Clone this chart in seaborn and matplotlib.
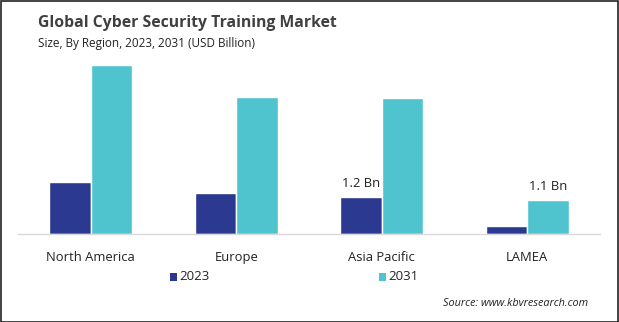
import matplotlib
matplotlib.use("Agg")
import matplotlib.pyplot as plt
import seaborn as sns
import pandas as pd
from matplotlib.patches import Rectangle

regions = ["North America", "Europe", "Asia Pacific", "LAMEA"]
years = ["2023", "2031"]
values_2023 = [1.68, 1.32, 1.2, 0.26]
values_2031 = [5.45, 4.42, 4.39, 1.1]
labels_2023 = ["", "", "1.2 Bn", ""]
labels_2031 = ["", "", "", "1.1 Bn"]

df = pd.DataFrame({
    "Region": regions * 2,
    "Year": [years[0]] * 4 + [years[1]] * 4,
    "Value": values_2023 + values_2031,
})

sns.set_theme(style="white")
plt.rcParams['font.family'] = ['Open Sans', 'DejaVu Sans']

fig = plt.figure(figsize=(6.19, 3.22), dpi=100)
ax = fig.add_axes([18/619, 1-234/322, 582/619, 179/322])

palette = {"2023": "#2B3990", "2031": "#4FC4CF"}
sns.barplot(data=df, x="Region", y="Value", hue="Year", order=regions,
            hue_order=years, palette=palette, width=0.572, gap=0,
            saturation=1, ax=ax, legend=False, errorbar=None)

ax.set_xlim(-0.5, 3.5)
ax.set_ylim(0, 5.774)
ax.set_xlabel("")
ax.set_ylabel("")
ax.set_yticks([])
for s in ["top", "right", "left"]:
    ax.spines[s].set_visible(False)
ax.spines["bottom"].set_color("#d9d9d9")
ax.spines["bottom"].set_linewidth(1)
ax.tick_params(axis="x", length=0, pad=12, labelsize=9.4, colors="#222222")

for cont, labs in zip(ax.containers, [labels_2023, labels_2031]):
    ax.bar_label(cont, labels=labs, padding=5, fontsize=9.4, color="#222222")

fig.text(38/619, 1-23/322, "Global Cyber Security Training Market",
         fontsize=11.3, fontweight="bold", color="#404040", va="center")
fig.text(38/619, 1-43/322, "Size, By Region, 2023, 2031 (USD Billion)",
         fontsize=8.5, color="#222222", va="center")

# legend
for x0, yr in [(170, years[0]), (379, years[1])]:
    fig.patches.append(Rectangle((x0/619, 1-281/322), 7/619, 8/322,
                                 transform=fig.transFigure,
                                 facecolor=palette[yr], edgecolor="none"))
    fig.text((x0+9)/619, 1-277/322, yr, fontsize=9.5, color="#222222",
             va="center")

fig.text(588/619, 1-304/322, "Source: www.kbvresearch.com", fontsize=7.8,
         style="italic", color="#222222", ha="right", va="center")

fig.patches.append(Rectangle((0.5/619, 0.5/322), 1-1.5/619, 1-1.5/322,
                             transform=fig.transFigure, fill=False,
                             edgecolor="#222222", linewidth=1.2))

fig.savefig("out.png", dpi=100)
